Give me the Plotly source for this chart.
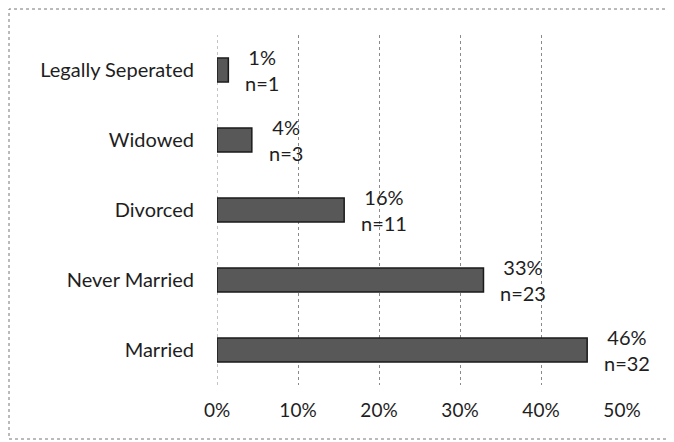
import plotly.graph_objects as go

categories = ["Legally Seperated", "Widowed", "Divorced", "Never Married", "Married"]
percent_values = [1.4, 4.3, 15.7, 32.9, 45.7]
pct_labels = ["1%", "4%", "16%", "33%", "46%"]
n_labels = ["n=1", "n=3", "n=11", "n=23", "n=32"]
x_ticks = [0, 10, 20, 30, 40, 50]
x_tick_labels = ["0%", "10%", "20%", "30%", "40%", "50%"]

FONT = "Lato, Open Sans, sans-serif"
TXT = "#1e1e1e"

fig = go.Figure(go.Bar(
    x=percent_values, y=categories, orientation="h",
    marker=dict(color="#585858", line=dict(color="#1a1a1a", width=1.5)),
    width=0.34, hoverinfo="skip",
))

annotations = []
for cat, v, p, n in zip(categories, percent_values, pct_labels, n_labels):
    annotations.append(dict(
        x=v, y=cat, xref="x", yref="y", text=f"{p}<br>{n}", showarrow=False,
        xanchor="left", xshift=15, align="center",
        font=dict(family=FONT, size=20, color=TXT),
    ))

# page has an 8px body margin: figure origin is at page (8, 8)
W, H = 666, 434
L, R, T, B = 209, 52, 27, 57
pw, ph = W - L - R, H - T - B

def px_x(p):
    return (p - L) / pw

def px_y(p):
    return (H - B - p) / ph

fig.update_layout(
    width=W, height=H,
    margin=dict(l=L, r=R, t=T, b=B),
    paper_bgcolor="white", plot_bgcolor="white",
    showlegend=False,
    annotations=annotations,
    xaxis=dict(
        range=[0, 50], tickvals=x_ticks, ticktext=x_tick_labels,
        showgrid=True, gridcolor="#8a8a8a", griddash="dot", gridwidth=1,
        zeroline=False, showline=False, ticks="",
        ticklabelstandoff=12,
        tickfont=dict(family=FONT, size=19, color=TXT),
        fixedrange=True,
    ),
    yaxis=dict(
        autorange="reversed",
        showgrid=False, zeroline=False, showline=False,
        ticks="", ticklabelstandoff=22,
        tickfont=dict(family=FONT, size=20, color=TXT),
        fixedrange=True,
    ),
    shapes=[
        dict(
            type="rect", xref="paper", yref="paper",
            x0=px_x(1), x1=px_x(660), y0=px_y(431), y1=px_y(1),
            line=dict(color="#777777", width=1, dash="dot"),
            fillcolor="rgba(0,0,0,0)", layer="below",
        ),
        dict(
            type="line", xref="x", yref="paper", x0=0, x1=0, y0=0, y1=1,
            line=dict(color="#8a8a8a", width=1, dash="dot"), layer="below",
        ),
    ],
)

fig.write_html("out.html")
